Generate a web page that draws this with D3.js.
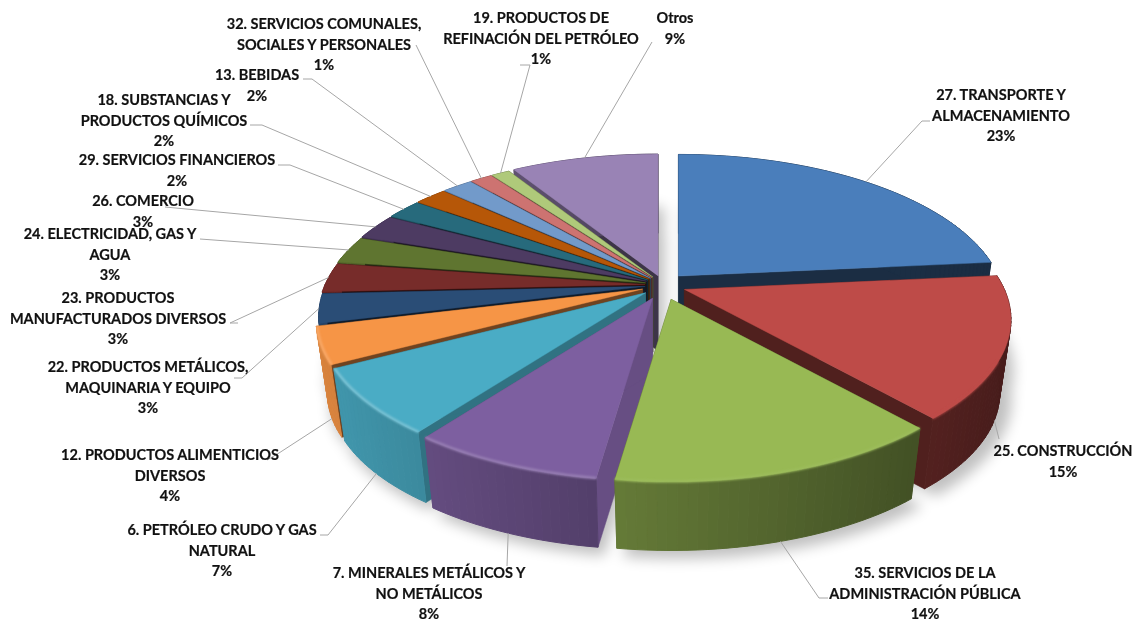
<!DOCTYPE html>
<html><head><meta charset="utf-8">
<script src="https://cdn.jsdelivr.net/npm/d3@7/dist/d3.min.js"></script>
<style>html,body{margin:0;padding:0;background:#fff;overflow:hidden}
text{font-family:Lato,"Open Sans",sans-serif;font-weight:700;font-size:14.5px;fill:#111;stroke:#111;stroke-width:.2px;text-anchor:middle}</style>
</head><body><svg id="c" width="1133" height="622"></svg>
<script>
// ---------- data ----------
const categories = [
 ["27. TRANSPORTE Y","ALMACENAMIENTO"],
 ["25. CONSTRUCCIÓN"],
 ["35. SERVICIOS DE LA","ADMINISTRACIÓN PÚBLICA"],
 ["7. MINERALES METÁLICOS Y","NO METÁLICOS"],
 ["6. PETRÓLEO CRUDO Y GAS","NATURAL"],
 ["12. PRODUCTOS ALIMENTICIOS","DIVERSOS"],
 ["22. PRODUCTOS METÁLICOS,","MAQUINARIA Y EQUIPO"],
 ["23. PRODUCTOS","MANUFACTURADOS DIVERSOS"],
 ["24. ELECTRICIDAD, GAS Y","AGUA"],
 ["26. COMERCIO"],
 ["29. SERVICIOS FINANCIEROS"],
 ["18. SUBSTANCIAS Y","PRODUCTOS QUÍMICOS"],
 ["13. BEBIDAS"],
 ["32. SERVICIOS COMUNALES,","SOCIALES Y PERSONALES"],
 ["19. PRODUCTOS DE","REFINACIÓN DEL PETRÓLEO"],
 ["Otros"]
];
const values = [23.4,15.0,13.7,7.9,7.0,3.9,3.1,3.1,2.9,2.7,2.1,1.9,1.8,1.3,1.1,8.8];

// ---------- style / layout ----------
const colors = ["#4A7EBB","#BE4B48","#98B954","#7D5FA0","#4AACC5","#F69546","#2A4D76","#772C2A","#5F7530","#4D3B62","#276A7C","#B65708","#729ACA","#CD7371","#AFC97A","#9983B5"];
const faceShade = [.36,.42,.5,.82,.66,.45,.35,.35,.35,.35,.4,.4,.4,.4,.4,.4];
const rimLight = [0,0,.05,.22,.3,.2,0,0,0,0,0,0,0,0,0,0];
const explode = [1,1,1.25,1.2,1,.95,.78,.78,.78,.78,.78,.78,.78,.78,.78,.8];
const labelAnchor = [[1001,95],[1063,451],[925,573],[429,573],[222,530],[170,455],[148,367],[118,298],[110,234],[143,201],[177,160],[164,100],[257,75],[324,24],[541,18],[675,18]];
const leaderStart = [[[930,121],[922,121]],[[999,439]],[[828,598],[819,598]],[[507,566]],[[320,535],[328,535]],[[267,460],[279,453]],[[234,378],[242,378]],[[238,323],[230,323]],[[200,239]],[[165,207]],[[278,165],[290,165]],[[250,125],[262,125]],[[303,79],[312,79]],[[416,45]],[[520,65],[530,65]],[[652,42]]];
const LH = 20.6, CX = 663, CY = 285, R = 320, A = 146, D = 5, H = 75, BACK = .965, EX = 23, EY = 12;

const svg = d3.select("#c");
const defs = svg.append("defs");
defs.append("filter").attr("id","soft").attr("x","-20%").attr("y","-20%").attr("width","140%").attr("height","140%")
  .append("feGaussianBlur").attr("stdDeviation",7);
defs.append("filter").attr("id","rim").attr("x","-5%").attr("y","-5%").attr("width","110%").attr("height","110%")
  .append("feGaussianBlur").attr("stdDeviation",1);

const arcs = d3.pie().sort(null).value(d=>d).startAngle(0).endAngle(2*Math.PI)(values)
  .map((a,i)=>{
    const mid=(a.startAngle+a.endAngle)/2;
    return {...a,i,mid,dx:explode[i]*EX*Math.sin(mid),dy:-explode[i]*EY*Math.cos(mid),order:Math.abs(mid-Math.PI)};
  });
function project(a,t,r,bottom){
  const u=r*Math.sin(t),v=r*Math.cos(t),s=D/(D+v)*(bottom?BACK:1);
  return [CX+a.dx+R*s*u, CY+a.dy-A*s*v+(bottom?H:0)];
}
const line=d3.line(), closed=d3.line().curve(d3.curveLinearClosed);
const STEP=1.5*Math.PI/180;
const samples=a=>{const n=Math.max(2,Math.ceil((a.endAngle-a.startAngle)/STEP));
  return d3.range(n+1).map(k=>a.startAngle+(a.endAngle-a.startAngle)*k/n);};
const shade=(c,f)=>d3.interpolateRgb("#000",c)(f);
function wallShade(t){
  const q=(Math.cos(t-4.45)+1)/2;
  return .36+.52*Math.pow(q,1.5);
}

// shadow: the base of the pie plus the top face dropped behind it
const shadow=svg.append("g").attr("filter","url(#soft)").attr("opacity",.25);
shadow.selectAll("path.b").data(arcs).join("path").attr("class","b")
 .attr("fill","#000").attr("transform","translate(7,5)")
 .attr("d",a=>closed([project(a,0,0,true),...samples(a).map(t=>project(a,t,1.015,true))]));
shadow.selectAll("path.t").data(arcs).join("path").attr("class","t")
 .attr("fill","#000").attr("transform","translate(6,52)")
 .attr("d",a=>closed([project(a,0,0,false),...samples(a).map(t=>project(a,t,.99,false))]));

// slices, back to front
const order=arcs.slice().sort((p,q)=>q.order-p.order);
const g=svg.append("g");
order.forEach(a=>{
  const sg=g.append("g");
  const c=colors[a.i];
  const face=t=>closed([project(a,t,0,false),project(a,t,1,false),project(a,t,1,true),project(a,t,0,true)]);
  sg.selectAll("path.f").data([a.startAngle,a.endAngle]).join("path").attr("class","f")
    .attr("d",face).attr("fill",shade(c,faceShade[a.i])).attr("stroke",shade(c,faceShade[a.i])).attr("stroke-width",.5);
  const ts=samples(a);
  sg.selectAll("path.w").data(d3.pairs(ts)).join("path").attr("class","w")
    .attr("d",([t0,t1])=>closed([project(a,t0,1,false),project(a,t1,1,false),project(a,t1,1,true),project(a,t0,1,true)]))
    .attr("fill",([t0,t1])=>shade(c,wallShade((t0+t1)/2)))
    .attr("stroke",([t0,t1])=>shade(c,wallShade((t0+t1)/2))).attr("stroke-width",1);
  sg.append("path").attr("d",closed([project(a,0,0,false),...ts.map(t=>project(a,t,1,false))]))
    .attr("fill",c).attr("stroke",c).attr("stroke-width",.4);
  const front=ts.filter(t=>t>Math.PI/2+.45&&t<4.5);
  if(front.length>1){
    sg.append("path").attr("d",line(front.map(t=>project(a,t,.998,false))))
      .attr("fill","none").attr("stroke",d3.interpolateRgb(c,"#fff")(rimLight[a.i])).attr("stroke-width",2.4).attr("filter","url(#rim)");
  }
});

// leaders
svg.append("g").selectAll("path").data(arcs).join("path")
 .attr("fill","none").attr("stroke","#A6A6A6").attr("stroke-width",1)
 .attr("d",a=>{const bottom=a.mid>Math.PI/2&&a.mid<4.45;
   return line([...leaderStart[a.i],project(a,a.mid,1,bottom)]);});

// labels
const lab=svg.append("g").selectAll("text").data(arcs).join("text")
 .attr("transform",a=>`translate(${labelAnchor[a.i][0]},${labelAnchor[a.i][1]+5})`);
lab.selectAll("tspan").data(a=>[...categories[a.i],Math.round(a.value)+"%"]).join("tspan")
 .attr("x",0).attr("y",(d,k)=>k*LH).text(d=>d);
</script></body></html>
